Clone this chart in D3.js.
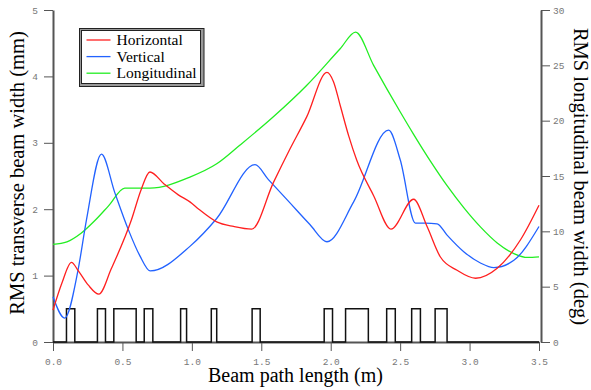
<!DOCTYPE html>
<html>
<head>
<meta charset="utf-8">
<script src="https://cdn.jsdelivr.net/npm/d3@7"></script>
<style>
  body { margin: 0; background: #fff; }
  svg { display: block; }
  .tick text { font-family: "Liberation Mono", monospace; font-size: 9.5px; fill: #777; }
  .axis path, .axis line { stroke: #555; }
</style>
</head>
<body>
<div id="chart"></div>
<script>
// chart data
const horizS = [0, 0.063, 0.133, 0.180, 0.253, 0.330, 0.421, 0.565, 0.634, 0.698, 0.80, 0.90, 0.986, 1.05, 1.179, 1.30, 1.431, 1.587, 1.70, 1.827, 1.973, 2.02, 2.07, 2.13, 2.187, 2.31, 2.434, 2.597, 2.694, 2.79, 2.91, 3.043, 3.199, 3.367, 3.5];
const horizW = [0.48, 0.88, 1.20, 1.08, 0.86, 0.72, 1.11, 1.84, 2.29, 2.56, 2.38, 2.22, 2.11, 2.00, 1.81, 1.74, 1.70, 2.40, 2.88, 3.39, 4.06, 3.92, 3.55, 3.10, 2.74, 2.20, 1.70, 2.15, 1.74, 1.28, 1.08, 0.96, 1.11, 1.54, 2.06];

const vertS = [0, 0.084, 0.180, 0.241, 0.349, 0.445, 0.541, 0.625, 0.70, 0.986, 1.179, 1.455, 1.55, 1.70, 1.85, 1.973, 2.165, 2.417, 2.501, 2.61, 2.68, 2.766, 2.838, 2.958, 3.078, 3.175, 3.319, 3.5];
const vertW = [0.68, 0.36, 1.08, 1.84, 2.83, 2.25, 1.70, 1.30, 1.07, 1.44, 1.86, 2.67, 2.45, 2.11, 1.77, 1.51, 2.11, 3.19, 2.74, 1.79, 1.79, 1.78, 1.61, 1.36, 1.19, 1.12, 1.23, 1.74];

const longS = [0, 0.1, 0.2, 0.3, 0.4, 0.517, 0.698, 0.986, 1.179, 1.347, 1.587, 1.828, 2.068, 2.179, 2.309, 2.501, 2.597, 2.718, 2.838, 2.958, 3.078, 3.199, 3.319, 3.416, 3.5];
const longW = [8.83, 9.05, 9.8, 10.95, 12.3, 13.9, 13.9, 14.9, 16.1, 17.8, 20.35, 23.2, 26.5, 28.0, 25.0, 20.78, 18.76, 16.34, 14.12, 12.14, 10.4, 8.95, 7.99, 7.64, 7.7];

// beamline elements (start, end in m)
const elemStart = [0.097, 0.320, 0.438, 0.657, 0.919, 1.140, 1.434, 1.953, 2.107, 2.403, 2.583, 2.752];
const elemEnd   = [0.157, 0.378, 0.599, 0.719, 0.962, 1.179, 1.492, 2.013, 2.271, 2.465, 2.646, 2.838];
const elemHeight = 0.5;

const seriesNames = ["Horizontal", "Vertical", "Longitudinal"];
const seriesColors = ["#ff1f1f", "#2262ff", "#22ee22"];

const width = 591, height = 390;

const svg = d3.select("#chart")
  .append("svg")
  .attr("width", width)
  .attr("height", height);

const xScale = d3.scaleLinear().domain([0, 3.5]).range([53, 539]);
const yLeft = d3.scaleLinear().domain([0, 5]).range([342, 10]);
const yRight = d3.scaleLinear().domain([0, 30]).range([342, 10]);

// axes
svg.append("g")
  .attr("class", "axis")
  .attr("transform", "translate(0,342)")
  .call(d3.axisBottom(xScale).tickValues(d3.range(0, 3.51, 0.5)).tickFormat(d3.format(".1f")).tickSize(9).tickSizeOuter(0).tickPadding(7))
  .call(g => g.select(".domain").attr("stroke-width", 2));

svg.append("g")
  .attr("class", "axis")
  .attr("transform", "translate(53,0)")
  .call(d3.axisLeft(yLeft).ticks(5).tickSize(9).tickSizeOuter(0).tickPadding(6))
  .call(g => g.select(".domain").attr("stroke-width", 2));

svg.append("g")
  .attr("class", "axis")
  .attr("transform", "translate(541,0)")
  .call(d3.axisRight(yRight).tickValues(d3.range(0, 31, 5)).tickSize(9).tickSizeOuter(0).tickPadding(3))
  .call(g => g.select(".domain").attr("stroke-width", 2));

// element profile
let prof = [[0, 0]];
elemStart.forEach((s, i) => {
  prof.push([s, 0], [s, elemHeight], [elemEnd[i], elemHeight], [elemEnd[i], 0]);
});
prof.push([3.5, 0]);

svg.append("path")
  .datum(prof)
  .attr("fill", "none")
  .attr("stroke", "#111")
  .attr("stroke-width", 1.5)
  .attr("d", d3.line().x(d => xScale(d[0])).y(d => yLeft(d[1])));

// beam curves
const lineL = d3.line().curve(d3.curveMonotoneX).x(d => xScale(d[0])).y(d => yLeft(d[1]));
const lineR = d3.line().curve(d3.curveMonotoneX).x(d => xScale(d[0])).y(d => yRight(d[1]));

svg.append("path")
  .datum(d3.zip(longS, longW))
  .attr("fill", "none").attr("stroke", seriesColors[2]).attr("stroke-width", 1.3)
  .attr("d", lineR);

svg.append("path")
  .datum(d3.zip(vertS, vertW))
  .attr("fill", "none").attr("stroke", seriesColors[1]).attr("stroke-width", 1.3)
  .attr("d", lineL);

svg.append("path")
  .datum(d3.zip(horizS, horizW))
  .attr("fill", "none").attr("stroke", seriesColors[0]).attr("stroke-width", 1.3)
  .attr("d", lineL);

// axis titles
const titleFont = "'Liberation Serif', 'Times New Roman', serif";

svg.append("text")
  .attr("x", 295.5).attr("y", 382)
  .attr("text-anchor", "middle")
  .style("font-family", titleFont).style("font-size", "20px")
  .text("Beam path length (m)");

svg.append("text")
  .attr("transform", "translate(24,173) rotate(-90)")
  .attr("text-anchor", "middle")
  .style("font-family", titleFont).style("font-size", "20.5px")
  .text("RMS transverse beam width (mm)");

svg.append("text")
  .attr("transform", "translate(574,176.5) rotate(90)")
  .attr("text-anchor", "middle")
  .style("font-family", titleFont).style("font-size", "20.5px")
  .text("RMS longitudinal beam width (deg)");

// legend
const legend = svg.append("g");
legend.append("rect")
  .attr("x", 79.5).attr("y", 28.5).attr("width", 124.5).attr("height", 58)
  .attr("fill", "#999").attr("stroke", "#222");
legend.append("rect")
  .attr("x", 81.5).attr("y", 30.5).attr("width", 119).attr("height", 53)
  .attr("fill", "#fff").attr("stroke", "#222");

const rows = legend.selectAll(".legend")
  .data(seriesNames)
  .enter()
  .append("g")
  .attr("class", "legend")
  .attr("transform", (d, i) => "translate(0," + (40 + i * 16.6) + ")");

rows.append("line")
  .attr("x1", 86.5).attr("x2", 110.5)
  .attr("stroke", (d, i) => seriesColors[i])
  .attr("stroke-width", 1.3);

rows.append("text")
  .attr("x", 116.5).attr("y", 5)
  .style("font-family", titleFont).style("font-size", "15.5px")
  .text(d => d);
</script>
</body>
</html>
